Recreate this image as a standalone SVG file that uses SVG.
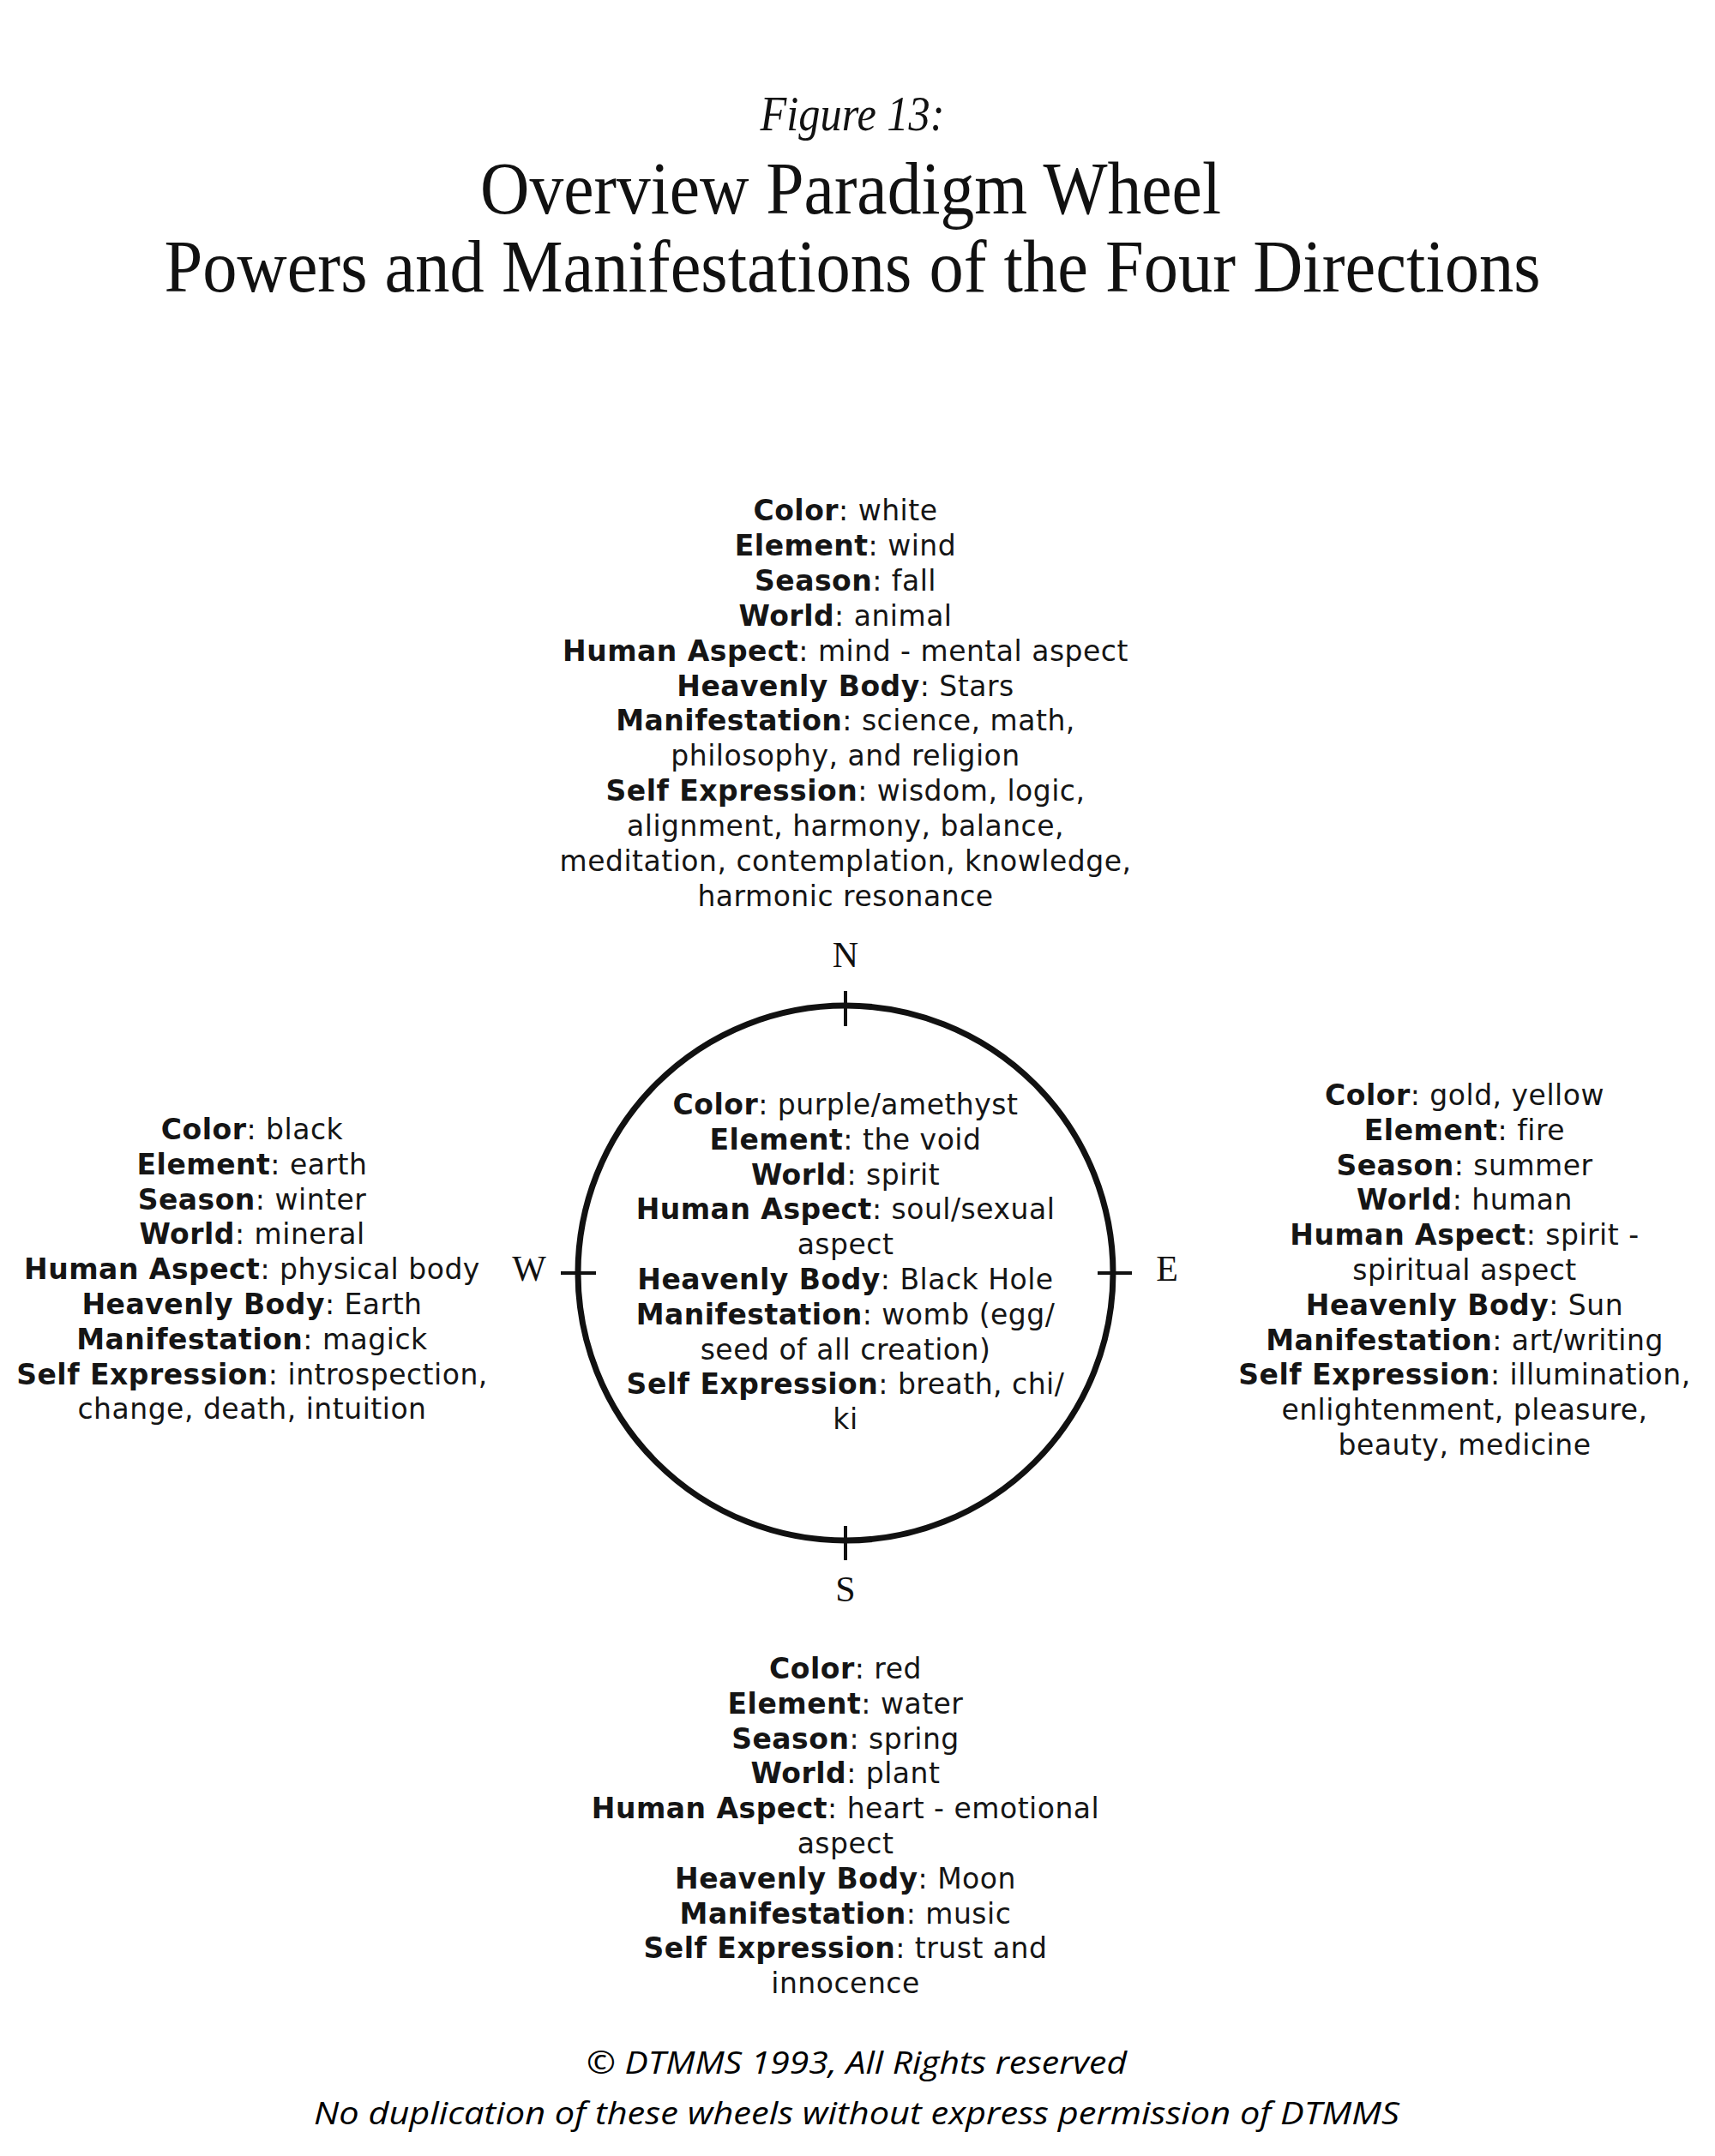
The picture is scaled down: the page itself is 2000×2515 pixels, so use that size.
<svg xmlns="http://www.w3.org/2000/svg" width="2000" height="2515" viewBox="0 0 2000 2515">
<style>
.title{font-family:"Liberation Serif","DejaVu Serif",serif;fill:#111;text-anchor:middle}
.blk{font-family:"DejaVu Sans","Liberation Sans",sans-serif;font-size:33px;letter-spacing:0.5px;fill:#151515;text-anchor:middle}
.blk .b{font-weight:bold}
.dir{font-family:"Liberation Serif","DejaVu Serif",serif;font-size:42px;fill:#111;text-anchor:middle}
.foot{font-family:"Open Sans","Liberation Sans",sans-serif;font-style:italic;font-size:36px;fill:#000;text-anchor:middle}
.tick{stroke:#111;stroke-width:4}
</style>
<rect width="2000" height="2515" fill="#fff"/>
<g id="title">
<text class="title" x="994" y="152" font-size="56" font-style="italic" textLength="215" lengthAdjust="spacingAndGlyphs">Figure 13:</text>
<text class="title" x="992" y="249" font-size="86" textLength="864" lengthAdjust="spacingAndGlyphs">Overview Paradigm Wheel</text>
<text class="title" x="994" y="340" font-size="86" textLength="1605" lengthAdjust="spacingAndGlyphs">Powers and Manifestations of the Four Directions</text>
</g>
<g id="north">
<text class="blk" x="986" y="607"><tspan class="b">Color</tspan>: white</text>
<text class="blk" x="986" y="648"><tspan class="b">Element</tspan>: wind</text>
<text class="blk" x="986" y="689"><tspan class="b">Season</tspan>: fall</text>
<text class="blk" x="986" y="730"><tspan class="b">World</tspan>: animal</text>
<text class="blk" x="986" y="771"><tspan class="b">Human Aspect</tspan>: mind - mental aspect</text>
<text class="blk" x="986" y="812"><tspan class="b">Heavenly Body</tspan>: Stars</text>
<text class="blk" x="986" y="852"><tspan class="b">Manifestation</tspan>: science, math,</text>
<text class="blk" x="986" y="893">philosophy, and religion</text>
<text class="blk" x="986" y="934"><tspan class="b">Self Expression</tspan>: wisdom, logic,</text>
<text class="blk" x="986" y="975">alignment, harmony, balance,</text>
<text class="blk" x="986" y="1016">meditation, contemplation, knowledge,</text>
<text class="blk" x="986" y="1057">harmonic resonance</text>
</g>
<g id="wheel">
<circle cx="986" cy="1485" r="312" fill="none" stroke="#111" stroke-width="7"/>
<text class="dir" x="986" y="1128">N</text>
<text class="dir" x="986" y="1868">S</text>
<text class="dir" x="617" y="1494">W</text>
<text class="dir" x="1361" y="1494">E</text>
</g>
<g id="connectors">
<line class="tick" x1="986" y1="1156" x2="986" y2="1197"/>
<line class="tick" x1="986" y1="1780" x2="986" y2="1820"/>
<line class="tick" x1="654" y1="1485" x2="695" y2="1485"/>
<line class="tick" x1="1280" y1="1485" x2="1320" y2="1485"/>
</g>
<g id="center">
<text class="blk" x="986" y="1300"><tspan class="b">Color</tspan>: purple/amethyst</text>
<text class="blk" x="986" y="1341"><tspan class="b">Element</tspan>: the void</text>
<text class="blk" x="986" y="1382"><tspan class="b">World</tspan>: spirit</text>
<text class="blk" x="986" y="1422"><tspan class="b">Human Aspect</tspan>: soul/sexual</text>
<text class="blk" x="986" y="1463">aspect</text>
<text class="blk" x="986" y="1504"><tspan class="b">Heavenly Body</tspan>: Black Hole</text>
<text class="blk" x="986" y="1545"><tspan class="b">Manifestation</tspan>: womb (egg/</text>
<text class="blk" x="986" y="1586">seed of all creation)</text>
<text class="blk" x="986" y="1626"><tspan class="b">Self Expression</tspan>: breath, chi/</text>
<text class="blk" x="986" y="1667">ki</text>
</g>
<g id="west">
<text class="blk" x="294" y="1329"><tspan class="b">Color</tspan>: black</text>
<text class="blk" x="294" y="1370"><tspan class="b">Element</tspan>: earth</text>
<text class="blk" x="294" y="1411"><tspan class="b">Season</tspan>: winter</text>
<text class="blk" x="294" y="1451"><tspan class="b">World</tspan>: mineral</text>
<text class="blk" x="294" y="1492"><tspan class="b">Human Aspect</tspan>: physical body</text>
<text class="blk" x="294" y="1533"><tspan class="b">Heavenly Body</tspan>: Earth</text>
<text class="blk" x="294" y="1574"><tspan class="b">Manifestation</tspan>: magick</text>
<text class="blk" x="294" y="1615"><tspan class="b">Self Expression</tspan>: introspection,</text>
<text class="blk" x="294" y="1655">change, death, intuition</text>
</g>
<g id="east">
<text class="blk" x="1708" y="1289"><tspan class="b">Color</tspan>: gold, yellow</text>
<text class="blk" x="1708" y="1330"><tspan class="b">Element</tspan>: fire</text>
<text class="blk" x="1708" y="1371"><tspan class="b">Season</tspan>: summer</text>
<text class="blk" x="1708" y="1411"><tspan class="b">World</tspan>: human</text>
<text class="blk" x="1708" y="1452"><tspan class="b">Human Aspect</tspan>: spirit -</text>
<text class="blk" x="1708" y="1493">spiritual aspect</text>
<text class="blk" x="1708" y="1534"><tspan class="b">Heavenly Body</tspan>: Sun</text>
<text class="blk" x="1708" y="1575"><tspan class="b">Manifestation</tspan>: art/writing</text>
<text class="blk" x="1708" y="1615"><tspan class="b">Self Expression</tspan>: illumination,</text>
<text class="blk" x="1708" y="1656">enlightenment, pleasure,</text>
<text class="blk" x="1708" y="1697">beauty, medicine</text>
</g>
<g id="south">
<text class="blk" x="986" y="1958"><tspan class="b">Color</tspan>: red</text>
<text class="blk" x="986" y="1999"><tspan class="b">Element</tspan>: water</text>
<text class="blk" x="986" y="2040"><tspan class="b">Season</tspan>: spring</text>
<text class="blk" x="986" y="2080"><tspan class="b">World</tspan>: plant</text>
<text class="blk" x="986" y="2121"><tspan class="b">Human Aspect</tspan>: heart - emotional</text>
<text class="blk" x="986" y="2162">aspect</text>
<text class="blk" x="986" y="2203"><tspan class="b">Heavenly Body</tspan>: Moon</text>
<text class="blk" x="986" y="2244"><tspan class="b">Manifestation</tspan>: music</text>
<text class="blk" x="986" y="2284"><tspan class="b">Self Expression</tspan>: trust and</text>
<text class="blk" x="986" y="2325">innocence</text>
</g>
<g id="footer">
<text class="foot" x="999" y="2419" textLength="630" lengthAdjust="spacingAndGlyphs">© DTMMS 1993, All Rights reserved</text>
<text class="foot" x="999" y="2478" textLength="1266" lengthAdjust="spacingAndGlyphs">No duplication of these wheels without express permission of DTMMS</text>
</g>
</svg>
